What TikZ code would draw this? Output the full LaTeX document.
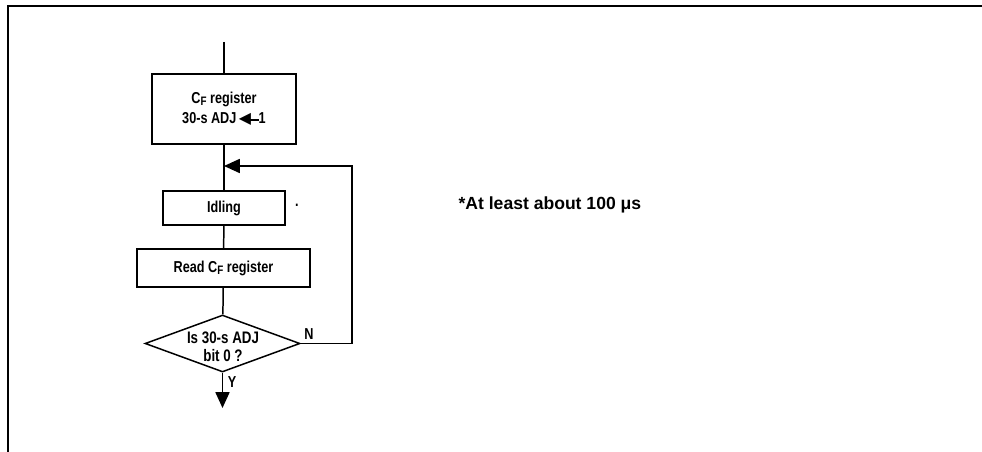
\documentclass[tikz,border=0pt]{standalone}
\usepackage{fontspec}
\setmainfont[FakeStretch=0.8]{Liberation Sans}
\newfontfamily\notefont{Liberation Sans}
\newfontfamily\symfont{DejaVu Sans}
\usepackage{tikz}
\usetikzlibrary{positioning, arrows.meta, shapes.geometric}

\newcommand{\cflag}{C\raisebox{-0.25ex}{\scriptsize F}}
\newcommand{\setarrow}{{\symfont\small\raisebox{-0.05ex}{◀}}\kern-0.12em\rule[0.32ex]{0.6em}{0.14ex}}

\begin{document}
\begin{tikzpicture}[
    x=0.02cm, y=-0.02cm,
    line width=0.85pt,
    procbox/.style={draw, minimum width=#1, align=center, font=\bfseries\fontsize{9}{11}\selectfont, inner sep=1pt},
    decbox/.style={draw, diamond, minimum width=3.1cm, minimum height=1.14cm, inner sep=0pt},
    bigtip/.style={-{Triangle[length=9pt, width=8pt]}}
]
\useasboundingbox (0,0) rectangle (982,452);
\draw[line width=1.2pt] (8,452) -- (8,6) -- (982,6);

\node[procbox=2.88cm, minimum height=1.4cm] (setadj) at (224,109) {\cflag{} register\\30-s ADJ\,\setarrow1};
\node[procbox=2.44cm, minimum height=0.68cm] (idle) at (224,208) {Idling};
\node[procbox=3.46cm, minimum height=0.76cm] (readcf) at (223.5,268) {Read \cflag{} register};
\node[decbox] (test) at (222.5,343.5) {};
\node[align=center, font=\bfseries\fontsize{9.5}{10.5}\selectfont] (testtext) at (223,347) {Is 30-s ADJ\\bit 0 ?};
\coordinate (entry) at (224,42);
\coordinate (merge) at (224,166);
\coordinate (corner) at (352,343.5);
\coordinate (exit) at (222.5,408);

\node[font=\bfseries\fontsize{9}{10}\selectfont] (mark) at (297,205) {.};
\node[anchor=west, font=\notefont\bfseries\fontsize{10}{12}\selectfont] (note) at (452,205) {*At least about 100 μs};
\node[font=\bfseries\fontsize{9}{10}\selectfont] (nlabel) at (309,334) {N};
\node[font=\bfseries\fontsize{9}{10}\selectfont] (ylabel) at (232,382) {Y};

\draw (entry) -- (setadj);
\draw (setadj) -- (idle);
\draw (idle) -- (readcf);
\draw (readcf) -- (test);
\draw[bigtip] (test.east) -- (corner) |- (merge);
\draw[bigtip] (test.south) -- (exit);
\end{tikzpicture}
\end{document}
